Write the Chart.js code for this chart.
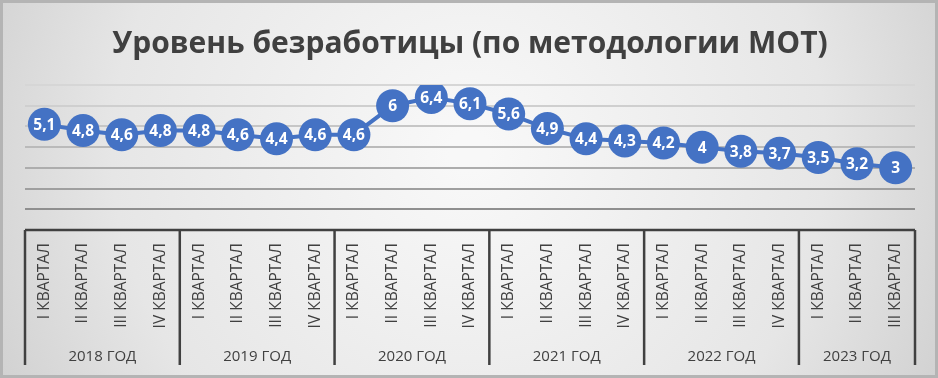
<!DOCTYPE html>
<html>
<head>
<meta charset="utf-8">
<script src="https://cdn.jsdelivr.net/npm/chart.js@4.4.1/dist/chart.umd.min.js"></script>
<style>
  html, body { margin: 0; padding: 0; background: #e6e6e6; }
  #wrap { width: 938px; height: 378px; position: relative; }
</style>
</head>
<body>
<div id="wrap"><canvas id="chart" width="938" height="378"></canvas></div>
<script>
const TITLE = 'Уровень безработицы (по методологии МОТ)';
const quarters = [
  'I КВАРТАЛ', 'II КВАРТАЛ', 'III КВАРТАЛ', 'IV КВАРТАЛ',
  'I КВАРТАЛ', 'II КВАРТАЛ', 'III КВАРТАЛ', 'IV КВАРТАЛ',
  'I КВАРТАЛ', 'II КВАРТАЛ', 'III КВАРТАЛ', 'IV КВАРТАЛ',
  'I КВАРТАЛ', 'II КВАРТАЛ', 'III КВАРТАЛ', 'IV КВАРТАЛ',
  'I КВАРТАЛ', 'II КВАРТАЛ', 'III КВАРТАЛ', 'IV КВАРТАЛ',
  'I КВАРТАЛ', 'II КВАРТАЛ', 'III КВАРТАЛ'
];
const years = ['2018 ГОД', '2019 ГОД', '2020 ГОД', '2021 ГОД', '2022 ГОД', '2023 ГОД'];
const yearSizes = [4, 4, 4, 4, 4, 3];
const unemployment = [
  5.1, 4.8, 4.6, 4.8,
  4.8, 4.6, 4.4, 4.6,
  4.6, 6, 6.4, 6.1,
  5.6, 4.9, 4.4, 4.3,
  4.2, 4, 3.8, 3.7,
  3.5, 3.2, 3
];

const BLUE = '#4472C4';
const TEXT = '#404040';
const gridColors = ['rgba(0,0,0,0)', '#8f8f8f', '#9f9f9f', '#adadad', '#bababa', '#c6c6c6', '#cfcfcf', '#d6d6d6'];

const fmt = v => String(v).replace('.', ',');

const decor = {
  id: 'decor',
  beforeDraw(chart) {
    const { ctx, width, height } = chart;
    ctx.save();
    const g = ctx.createRadialGradient(width / 2, height * 0.4, 20, width / 2, height * 0.4, width * 0.62);
    g.addColorStop(0, '#f8f8f8');
    g.addColorStop(0.6, '#e6e6e6');
    g.addColorStop(1, '#cacaca');
    ctx.fillStyle = g;
    ctx.fillRect(0, 0, width, height);
    ctx.strokeStyle = '#b4b4b4';
    ctx.lineWidth = 4;
    ctx.strokeRect(1, 1, width - 2, height - 2);
    ctx.fillStyle = TEXT;
    ctx.font = 'bold 30px "Open Sans"';
    ctx.textAlign = 'center';
    ctx.textBaseline = 'middle';
    ctx.fillText(TITLE, 470, 44);
    ctx.restore();
  },
  beforeDatasetsDraw(chart) {
    const { ctx, chartArea: a, scales: { x } } = chart;
    ctx.save();
    // axis box
    ctx.strokeStyle = TEXT;
    ctx.lineWidth = 2.5;
    ctx.beginPath();
    ctx.moveTo(a.left, a.bottom);
    ctx.lineTo(a.right, a.bottom);
    ctx.stroke();
    const half = (x.getPixelForValue(1) - x.getPixelForValue(0)) / 2;
    let idx = 0;
    const bounds = [a.left];
    yearSizes.forEach(n => { idx += n; bounds.push(x.getPixelForValue(idx - 1) + half); });
    bounds.forEach(bx => {
      ctx.beginPath();
      ctx.moveTo(bx, a.bottom);
      ctx.lineTo(bx, a.bottom + 135);
      ctx.stroke();
    });
    // quarter labels
    ctx.fillStyle = TEXT;
    ctx.font = '15.5px "Open Sans"';
    ctx.textAlign = 'right';
    ctx.textBaseline = 'middle';
    quarters.forEach((q, i) => {
      ctx.save();
      ctx.translate(x.getPixelForValue(i), a.bottom + 13);
      ctx.rotate(-Math.PI / 2);
      ctx.fillText(q, 0, 0);
      ctx.restore();
    });
    // year labels
    ctx.font = '15px "Open Sans"';
    ctx.textAlign = 'center';
    years.forEach((yr, i) => {
      ctx.fillText(yr, (bounds[i] + bounds[i + 1]) / 2, a.bottom + 127);
    });
    ctx.restore();
  },
  afterDatasetsDraw(chart) {
    const { ctx } = chart;
    const meta = chart.getDatasetMeta(0);
    ctx.save();
    ctx.fillStyle = '#ffffff';
    ctx.font = 'bold 15.5px "Open Sans"';
    ctx.textAlign = 'center';
    ctx.textBaseline = 'middle';
    meta.data.forEach((pt, i) => ctx.fillText(fmt(unemployment[i]), pt.x, pt.y + 1));
    ctx.restore();
  }
};

new Chart(document.getElementById('chart'), {
  type: 'line',
  data: {
    labels: quarters,
    datasets: [{
      data: unemployment,
      borderColor: BLUE,
      borderWidth: 4,
      backgroundColor: BLUE,
      pointBackgroundColor: BLUE,
      pointBorderWidth: 0,
      pointRadius: 16.5,
      pointHoverRadius: 16.5,
      tension: 0,
      fill: false
    }]
  },
  options: {
    responsive: false,
    animation: false,
    layout: { padding: { left: 25, right: 23, top: 85, bottom: 0 } },
    plugins: { legend: { display: false }, tooltip: { enabled: false }, title: { display: false } },
    scales: {
      x: {
        offset: true,
        grid: { display: false },
        border: { display: false },
        ticks: { display: false },
        afterFit: s => { s.height = 148; }
      },
      y: {
        min: 0, max: 7,
        ticks: { display: false, stepSize: 1 },
        border: { display: false },
        grid: { drawTicks: false, lineWidth: 2, color: c => gridColors[c.tick.value] || '#d6d6d6' },
        afterFit: s => { s.width = 0; }
      }
    }
  },
  plugins: [decor]
});
</script>
</body>
</html>
